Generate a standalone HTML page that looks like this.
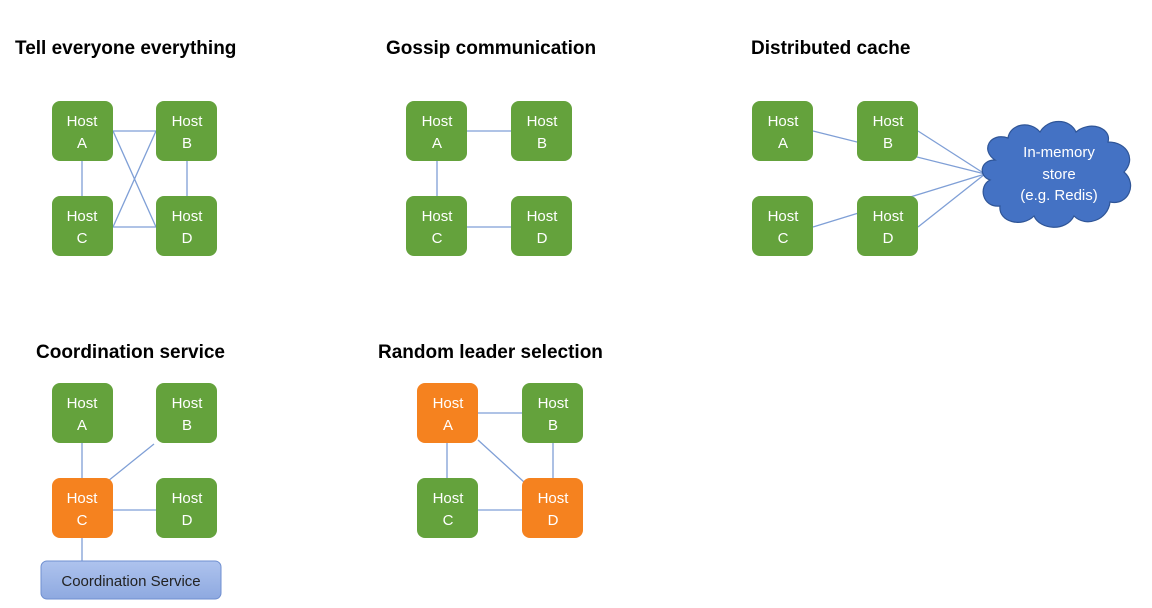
<!DOCTYPE html>
<html><head><meta charset="utf-8"><style>
body{margin:0;background:#fff;}
svg{display:block;font-family:"Liberation Sans",sans-serif;}
.t{font-weight:bold;font-size:19px;fill:#000;}
.h{fill:#fff;font-size:15px;text-anchor:middle;}
.l{stroke:#7f9fd6;stroke-width:1.3;fill:none;}
.g{fill:#64a23c;}
.o{fill:#f5821f;}
</style></head><body>
<svg width="1152" height="608" viewBox="0 0 1152 608">
<defs>
<linearGradient id="cs" x1="0" y1="0" x2="0" y2="1"><stop offset="0" stop-color="#aec3ee"/><stop offset="1" stop-color="#8ea9e0"/></linearGradient>
<g id="n"><rect width="61" height="60" rx="8"/></g>
</defs>
<text class="t" x="15" y="54">Tell everyone everything</text>
<text class="t" x="386" y="54">Gossip communication</text>
<text class="t" x="751" y="54">Distributed cache</text>
<text class="t" x="36" y="358">Coordination service</text>
<text class="t" x="378" y="358">Random leader selection</text>

<!-- lines -->
<g class="l">
<line x1="82" y1="161" x2="82" y2="196"/><line x1="187" y1="161" x2="187" y2="196"/>
<line x1="113" y1="131" x2="156" y2="131"/><line x1="113" y1="227" x2="156" y2="227"/>
<line x1="113" y1="131" x2="156" y2="227"/><line x1="113" y1="227" x2="156" y2="131"/>
<line x1="467" y1="131" x2="511" y2="131"/><line x1="437" y1="161" x2="437" y2="196"/><line x1="467" y1="227" x2="511" y2="227"/>
<line x1="813" y1="131" x2="985" y2="174"/><line x1="918" y1="131" x2="985" y2="174"/>
<line x1="813" y1="227" x2="985" y2="174"/><line x1="918" y1="227" x2="985" y2="174"/>
<line x1="82" y1="443" x2="82" y2="478"/><line x1="108" y1="481" x2="154" y2="444"/>
<line x1="113" y1="510" x2="156" y2="510"/><line x1="82" y1="538" x2="82" y2="561"/>
<line x1="478" y1="413" x2="522" y2="413"/><line x1="447" y1="443" x2="447" y2="478"/>
<line x1="553" y1="443" x2="553" y2="478"/><line x1="478" y1="440" x2="524" y2="482"/>
<line x1="478" y1="510" x2="522" y2="510"/>
</g>

<!-- nodes -->
<g class="g">
<use href="#n" x="52" y="101"/><use href="#n" x="156" y="101"/><use href="#n" x="52" y="196"/><use href="#n" x="156" y="196"/>
<use href="#n" x="406" y="101"/><use href="#n" x="511" y="101"/><use href="#n" x="406" y="196"/><use href="#n" x="511" y="196"/>
<use href="#n" x="752" y="101"/><use href="#n" x="857" y="101"/><use href="#n" x="752" y="196"/><use href="#n" x="857" y="196"/>
<use href="#n" x="52" y="383"/><use href="#n" x="156" y="383"/><use href="#n" x="156" y="478"/>
<use href="#n" x="522" y="383"/><use href="#n" x="417" y="478"/>
</g>
<g class="o"><use href="#n" x="52" y="478"/><use href="#n" x="417" y="383"/><use href="#n" x="522" y="478"/></g>

<g class="h">
<text x="82" y="126">Host</text><text x="82" y="148">A</text>
<text x="187" y="126">Host</text><text x="187" y="148">B</text>
<text x="82" y="221">Host</text><text x="82" y="243">C</text>
<text x="187" y="221">Host</text><text x="187" y="243">D</text>
<text x="437" y="126">Host</text><text x="437" y="148">A</text>
<text x="542" y="126">Host</text><text x="542" y="148">B</text>
<text x="437" y="221">Host</text><text x="437" y="243">C</text>
<text x="542" y="221">Host</text><text x="542" y="243">D</text>
<text x="783" y="126">Host</text><text x="783" y="148">A</text>
<text x="888" y="126">Host</text><text x="888" y="148">B</text>
<text x="783" y="221">Host</text><text x="783" y="243">C</text>
<text x="888" y="221">Host</text><text x="888" y="243">D</text>
<text x="82" y="408">Host</text><text x="82" y="430">A</text>
<text x="187" y="408">Host</text><text x="187" y="430">B</text>
<text x="82" y="503">Host</text><text x="82" y="525">C</text>
<text x="187" y="503">Host</text><text x="187" y="525">D</text>
<text x="448" y="408">Host</text><text x="448" y="430">A</text>
<text x="553" y="408">Host</text><text x="553" y="430">B</text>
<text x="448" y="503">Host</text><text x="448" y="525">C</text>
<text x="553" y="503">Host</text><text x="553" y="525">D</text>
</g>

<!-- cloud -->
<g fill="#4472c4" stroke="#2f5597" stroke-width="1.2">
<path d="M995,160 C980,150 990,132 1008,138 C1010,124 1030,120 1040,132 C1048,118 1070,118 1076,132 C1090,120 1112,128 1108,142 C1128,142 1136,160 1124,172 C1138,184 1128,206 1110,202 C1108,220 1086,228 1074,216 C1066,232 1040,230 1034,216 C1022,228 998,222 1000,206 C982,208 978,186 990,180 C978,176 980,160 995,160 Z"/>
</g>
<g class="h"><text x="1059" y="157">In-memory</text><text x="1059" y="179">store</text><text x="1059" y="200">(e.g. Redis)</text></g>

<rect x="41" y="561" width="180" height="38" rx="6" fill="url(#cs)" stroke="#6f8fd0" stroke-width="1"/>
<text x="131" y="586" font-size="15" text-anchor="middle" fill="#222">Coordination Service</text>
</svg>
</body></html>
